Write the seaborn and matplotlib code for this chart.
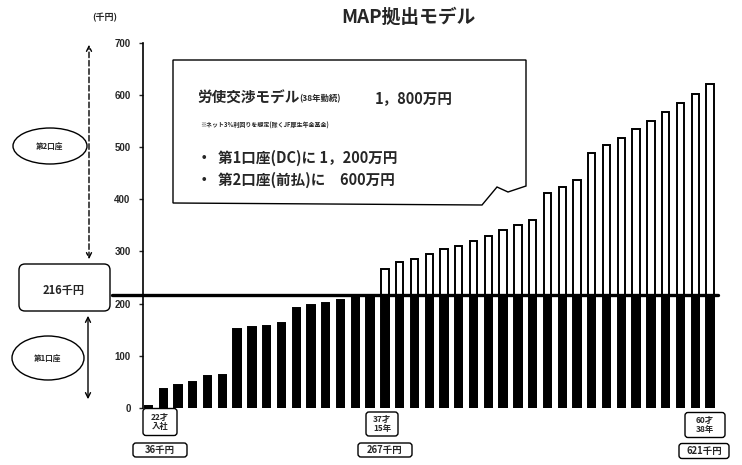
import numpy as np
import pandas as pd
import matplotlib
matplotlib.use("Agg")
import matplotlib.pyplot as plt
import seaborn as sns
from matplotlib.patches import Ellipse, FancyBboxPatch, Polygon, FancyArrowPatch

# ---------------- data ----------------
years = list(range(39))
totals = [4, 37, 45, 50, 61, 63, 151, 155, 158, 162, 191, 197, 201, 207, 216, 216,
          267, 279, 286, 295, 304, 311, 320, 330, 341, 351, 361, 412, 424, 437,
          488, 504, 518, 535, 550, 567, 584, 602, 621]
cap_first = 216  # 第1口座 monthly cap (千円)
first_account = [0] + [min(v, cap_first) for v in totals[1:]]
yticks = [0, 100, 200, 300, 400, 500, 600, 700]

df = pd.DataFrame({"year": years, "total": totals, "first": first_account})

# ---------------- figure ----------------
sns.set_theme(style="white")
plt.rcParams["font.family"] = ["Noto Sans CJK JP", "DejaVu Sans"]
fig = plt.figure(figsize=(7.42, 4.65), dpi=100)
W, H = 742, 465
ax = fig.add_axes([143 / W, 1 - 408 / H, 575 / W, (408 - 42.7) / H])

sns.barplot(data=df, x="year", y="total", color="white", edgecolor="black",
            linewidth=1.4, width=0.5, ax=ax, saturation=1)
sns.barplot(data=df, x="year", y="first", color="black", edgecolor="black",
            linewidth=0.5, width=0.5, ax=ax, saturation=1)

ax.set_xlim(-0.37, 38.54)
ax.set_ylim(0, 700)
ax.set_yticks(yticks)
ax.set_yticklabels([str(t) for t in yticks], fontsize=7, fontweight="bold",
                   family=["Liberation Sans", "DejaVu Sans"])
ax.tick_params(axis="y", direction="out", length=3, width=1, pad=6, left=True)
ax.set_xticks([])
ax.set_xlabel("")
ax.set_ylabel("")
for s in ["top", "right", "bottom"]:
    ax.spines[s].set_visible(False)
ax.spines["left"].set_linewidth(1.2)
ax.spines["left"].set_color("black")

# line at 216
ax.axhline(cap_first, xmin=-31 / 575, xmax=1.0, color="black", lw=2.4,
           clip_on=False, zorder=5)

# ---------------- overlay in pixel coords ----------------
ov = fig.add_axes([0, 0, 1, 1], facecolor="none")
ov.set_xlim(0, W)
ov.set_ylim(H, 0)
ov.axis("off")

# title
ov.text(408, 17, "MAP拠出モデル", ha="center", va="center", fontsize=13.5,
        fontweight="bold")
ov.text(105, 18, "(千円)", ha="center", va="center", fontsize=6.5,
        fontweight="bold")

# left annotations
ov.add_patch(FancyArrowPatch((89, 262), (89, 42), arrowstyle="<->",
                             mutation_scale=9, lw=1.0, linestyle=(0, (4, 2)),
                             color="black"))
ov.add_patch(Ellipse((50, 146), 74, 36, fill=False, lw=1.0, ec="black"))
ov.text(50, 146, "第2口座", ha="center", va="center", fontsize=5.5,
        fontweight="bold")
ov.add_patch(FancyBboxPatch((19, 264), 91, 47, boxstyle="round,pad=0,rounding_size=6",
                            fc="white", ec="black", lw=1.0, zorder=6))
ov.text(64, 290, "216千円", ha="center", va="center", fontsize=8,
        fontweight="bold", zorder=7)
ov.add_patch(FancyArrowPatch((88, 313), (88, 402), arrowstyle="<->",
                             mutation_scale=9, lw=1.0, color="black"))
ov.add_patch(Ellipse((48, 358), 72, 44, fill=False, lw=1.0, ec="black"))
ov.text(48, 358, "第1口座", ha="center", va="center", fontsize=5.5,
        fontweight="bold")

# callout box
ov.add_patch(Polygon([(173, 60), (526, 60), (526, 186), (508, 192), (497, 187),
                      (482, 205), (173, 203)], closed=True, fc="white",
                     ec="black", lw=1.0, zorder=3))
ov.text(197, 98, "労使交渉モデル", ha="left", va="center", fontsize=10.5,
        fontweight="bold", zorder=4)
ov.text(299, 99, "(38年勤続)", ha="left", va="center", fontsize=6,
        fontweight="bold", zorder=4)
ov.text(375, 98, "1，800万円", ha="left", va="center", fontsize=10.5,
        fontweight="bold", zorder=4)
ov.text(200, 125, "※ネット3%利回りを想定(除くJF厚生年金基金)", ha="left",
        va="center", fontsize=4.3, fontweight="bold", zorder=4)
ov.text(197, 158, "・  第1口座(DC)に 1，200万円", ha="left", va="center",
        fontsize=10.5, fontweight="bold", zorder=4)
ov.text(197, 180, "・  第2口座(前払)に　600万円", ha="left", va="center",
        fontsize=10.5, fontweight="bold", zorder=4)

# bottom labels
def label_box(cx, cy, w, h, text, fs):
    ov.add_patch(FancyBboxPatch((cx - w / 2, cy - h / 2), w, h,
                                boxstyle="round,pad=0,rounding_size=3",
                                fc="white", ec="black", lw=1.0))
    ov.text(cx, cy, text, ha="center", va="center", fontsize=fs,
            fontweight="bold", linespacing=1.0)

label_box(160, 422, 34, 27, "22才\n入社", 6)
label_box(160, 450, 54, 14, "36千円", 6.8)
label_box(382, 424, 32, 24, "37才\n15年", 6)
label_box(385, 450, 54, 14, "267千円", 6.8)
label_box(705, 425, 40, 25, "60才\n38年", 6)
label_box(704, 451, 50, 15, "621千円", 6.8)

fig.savefig("out.png", dpi=100)
